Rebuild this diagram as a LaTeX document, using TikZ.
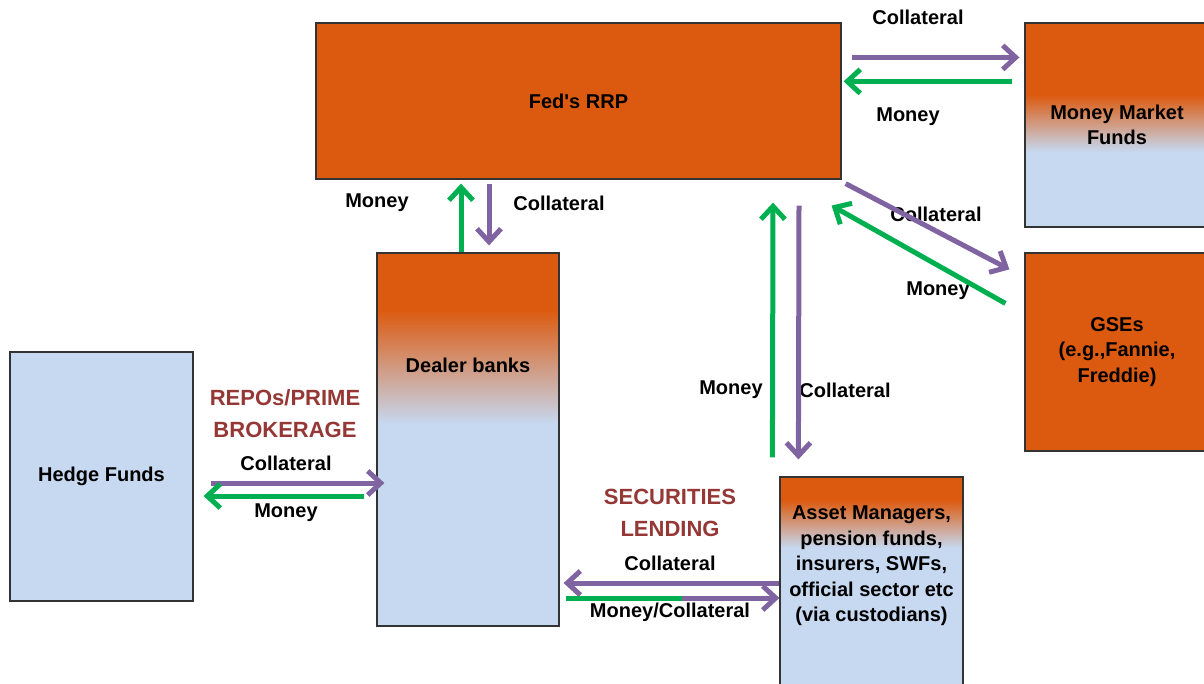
\documentclass[tikz,border=0pt]{standalone}
\usepackage{fontspec}
\setmainfont{Liberation Sans}
\usetikzlibrary{arrows.meta, calc}

\definecolor{rrporange}{HTML}{DC5A0F}
\definecolor{fundblue}{HTML}{C6D9F1}
\definecolor{collpurple}{HTML}{8064A2}
\definecolor{moneygreen}{HTML}{00B050}
\definecolor{headred}{HTML}{953735}

% orange top fading into blue (middle 25bp..75bp = box height)
\pgfdeclareverticalshading{dealershade}{100bp}{color(0bp)=(fundblue); color(52bp)=(fundblue); color(67.4bp)=(rrporange); color(100bp)=(rrporange)}
\pgfdeclareverticalshading{mmfshade}{100bp}{color(0bp)=(fundblue); color(43.4bp)=(fundblue); color(57.4bp)=(rrporange); color(100bp)=(rrporange)}
\pgfdeclareverticalshading{assetshade}{100bp}{color(0bp)=(fundblue); color(58.3bp)=(fundblue); color(69.6bp)=(rrporange); color(100bp)=(rrporange)}

\begin{document}
\begin{tikzpicture}[
    x=1pt, y=-1pt,
    every node/.style={font=\bfseries\fontsize{20}{25.5}\selectfont, align=center, inner sep=0pt},
    box/.style={draw=black!80, line width=1.2pt, rectangle},
    flowlabel/.style={text=black},
    headlabel/.style={text=headred, font=\bfseries\fontsize{22}{32}\selectfont},
    coll/.style={-{Straight Barb[length=13pt,width=24pt,line width=5pt]}, line width=5pt, collpurple},
    money/.style={-{Straight Barb[length=13pt,width=24pt,line width=5pt]}, line width=5pt, moneygreen},
]
\useasboundingbox (0,0) rectangle (1204,683);

% === Boxes ===
\node[box, fill=rrporange, minimum width=525, minimum height=156] (rrp) at (578.5,101) {Fed\textquotesingle s RRP};
\node[box, shading=mmfshade, minimum width=184, minimum height=204] (mmf) at (1117,125) {Money Market\\Funds};
\node[box, fill=rrporange, minimum width=184, minimum height=198] (gse) at (1117,352) {GSEs\\(e.g.,Fannie,\\Freddie)};
\node[box, shading=dealershade, minimum width=182, minimum height=373] (dealer) at (468,439.5) {};
\node (dealer-text) at (468,365) {Dealer banks};
\node[box, fill=fundblue, minimum width=183, minimum height=249] (hedge) at (101.5,476.5) {Hedge Funds};
\node[box, shading=assetshade, minimum width=183, minimum height=213] (asset) at (871.5,583.5) {};
\node (asset-text) at (871.5,566) {Asset Managers,\\pension funds,\\insurers, SWFs,\\official sector etc\\(via custodians)};

% === Flow labels ===
\node[flowlabel] (mmf-coll) at (918,17) {Collateral};
\node[flowlabel] (mmf-money) at (908,117) {Money};
\node[flowlabel] (dealer-money) at (377,203) {Money};
\node[flowlabel] (dealer-coll) at (559,203) {Collateral};
\node[flowlabel] (asset-money) at (731,390) {Money};
\node[flowlabel] (asset-coll) at (845,390) {Collateral};
\node[flowlabel] (gse-coll) at (936,214) {Collateral};
\node[flowlabel] (gse-money) at (938,291) {Money};
\node[headlabel] (repo-head) at (285,414) {REPOs/PRIME\\BROKERAGE};
\node[flowlabel] (repo-coll) at (286,463) {Collateral};
\node[flowlabel] (repo-money) at (286,513) {Money};
\node[headlabel] (sec-head) at (670,513) {SECURITIES\\LENDING};
\node[flowlabel] (sec-coll) at (670,563) {Collateral};
\node[flowlabel] (sec-money) at (670,612) {Money/Collateral};

% === Fed's RRP <-> Money Market Funds ===
\draw[coll] ($(rrp.north east)+(10,35)$) -- ($(mmf.north west)+(-5,35)$);
\draw[money] ($(mmf.north west)+(-12,59)$) -- ($(rrp.north east)+(2,59)$);

% === Fed's RRP <-> Dealer banks ===
\draw[money] ($(dealer.north)+(-7,0)$) -- ($(rrp.south)+(-117.5,4)$);
\draw[coll] ($(rrp.south)+(-89.5,4)$) -- ($(dealer.north)+(21,-7)$);

% === Fed's RRP <-> Asset Managers ===
\draw[money] ($(asset.north west)+(-7,-19)$) -- ($(rrp.south)+(194.5,23)$);
\draw[coll] ($(rrp.south)+(220.5,26)$) -- ($(asset.north west)+(19,-17)$);

% === Fed's RRP <-> GSEs ===
\draw[coll] ($(rrp.south east)+(4,4)$) -- ($(gse.north west)+(-15,17)$);
\draw[money] ($(gse.north west)+(-19,51)$) -- ($(rrp.south east)+(-10,26)$);

% === Hedge Funds <-> Dealer banks ===
\draw[coll] ($(hedge.east)+(17,6.5)$) -- ($(dealer.west)+(8,43.5)$);
\draw[money] ($(dealer.west)+(-12,56.5)$) -- ($(hedge.east)+(10,19.5)$);

% === Securities lending ===
\draw[coll] ($(asset.west)+(0,-0.5)$) -- ($(dealer.east)+(4,143.5)$);
\coordinate (sl-start) at ($(dealer.east)+(6,158.5)$);
\coordinate (sl-end) at ($(asset.west)+(0,14.5)$);
\draw[coll] (sl-start) -- (sl-end);
\draw[money, -] (sl-start) -- ($(sl-start)!0.544!(sl-end)$);

\end{tikzpicture}
\end{document}
